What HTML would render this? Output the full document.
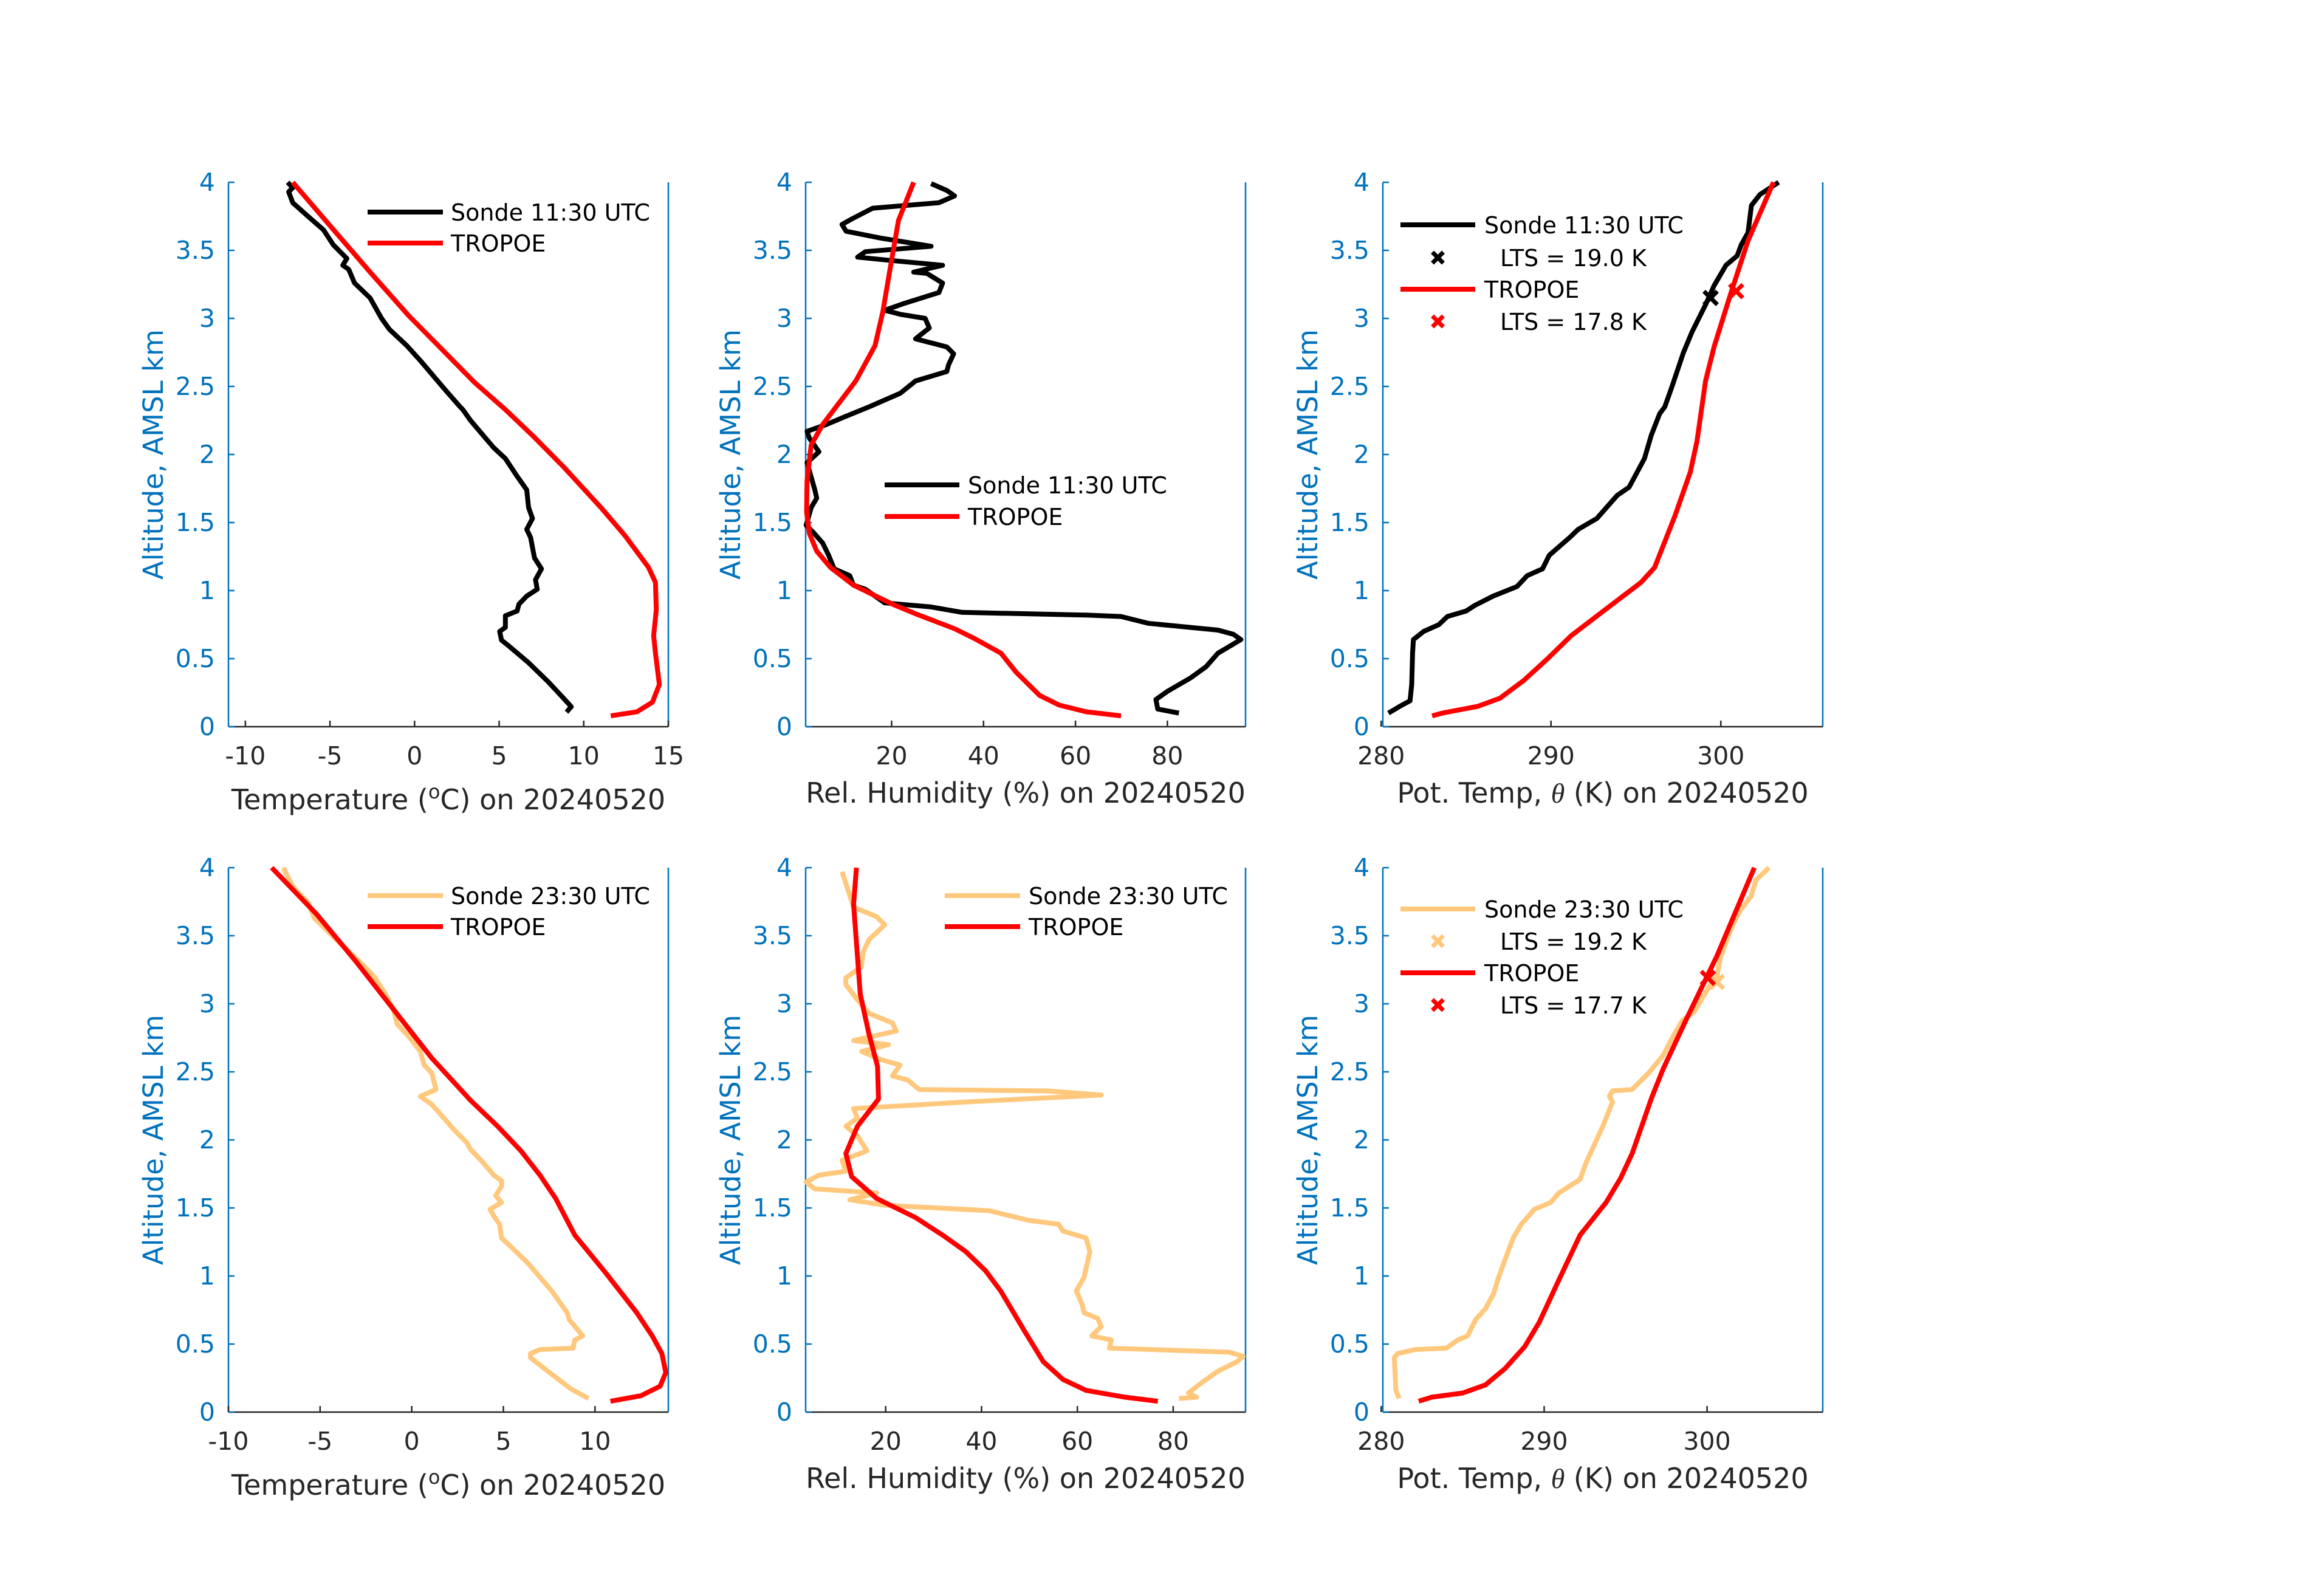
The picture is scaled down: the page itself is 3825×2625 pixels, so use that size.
<!DOCTYPE html>
<html><head><meta charset="utf-8">
<style>
html,body{margin:0;padding:0;background:#fff;}
svg{display:block;font-family:"DejaVu Sans","Liberation Sans",sans-serif;}
</style></head>
<body>
<svg id="fig" width="3825" height="2625" viewBox="0 0 3825 2625" xmlns="http://www.w3.org/2000/svg">
<rect width="3825" height="2625" fill="#fff"/>
</svg>
<script>
// ---- Data (altitude km) ----
// Top-left: temperature 11:30
const t1SondeT=[8.98,9.26,8.8,7.9,6.74,5.6,5.14,5.03,5.37,5.37,6.06,6.17,6.63,7.25,7.15,7.5,7.09,6.86,6.63,6.97,6.74,6.63,6.06,5.37,4.68,3.99,3.31,2.85,2.62,1.71,0.34,-0.46,-1.49,-1.95,-2.63,-3.55,-3.89,-4.24,-4.0,-4.8,-5.38,-6.3,-7.2,-7.44,-7.2,-7.5];
const t1SondeZ=[0.107,0.147,0.21,0.33,0.47,0.59,0.636,0.70,0.73,0.815,0.85,0.90,0.96,1.01,1.08,1.16,1.24,1.39,1.45,1.53,1.61,1.74,1.84,1.97,2.05,2.15,2.25,2.33,2.36,2.49,2.69,2.80,2.92,3.0,3.15,3.26,3.36,3.39,3.44,3.54,3.65,3.75,3.85,3.93,3.96,4.0];
const t1TropT=[11.6,13.15,14.06,14.47,14.24,14.13,14.29,14.24,13.83,12.46,11.09,8.8,6.97,5.37,3.54,1.48,-0.35,-2.63,-4.92,-7.2];
const t1TropZ=[0.08,0.11,0.18,0.31,0.54,0.67,0.86,1.06,1.17,1.40,1.60,1.91,2.14,2.33,2.53,2.79,3.02,3.34,3.67,4.0];
// Top-middle: RH 11:30
const r1SondeRH=[82.5,77.9,77.5,80,85.1,88.4,91,93.5,96,94.3,91,75.8,69.9,62.3,35.3,28.6,18.5,14.3,11.7,10.9,7.5,6.3,5.0,2.9,1.4,2.5,3.7,3.3,1.6,4.2,2.1,1.6,5.8,10,15.1,21.9,25.2,32,32.4,33.5,32,28.6,25.2,28.2,27.3,21.9,18.5,22.7,30.3,31.1,27.7,24.8,31.1,18.5,12.6,14.3,28.6,17.6,10.1,9.2,11.3,15.9,30.3,33.7,32,28.6];
const r1SondeZ=[0.10,0.13,0.20,0.26,0.36,0.44,0.54,0.59,0.64,0.68,0.71,0.76,0.81,0.82,0.84,0.88,0.91,1.01,1.04,1.11,1.16,1.26,1.35,1.43,1.48,1.61,1.68,1.74,1.94,2.02,2.12,2.17,2.22,2.28,2.35,2.45,2.54,2.61,2.66,2.74,2.79,2.82,2.85,2.93,3.0,3.03,3.06,3.11,3.19,3.26,3.33,3.34,3.39,3.43,3.45,3.49,3.53,3.59,3.64,3.69,3.73,3.81,3.85,3.90,3.94,3.99];
const r1TropRH=[69.9,62.3,56.4,52.2,47.1,43.8,37.9,33.7,25.2,20.2,11.7,6.7,3.7,2.1,1.5,1.6,2.5,5.0,12.2,16.4,18.1,19.7,21.5,24.8];
const r1TropZ=[0.08,0.11,0.16,0.23,0.40,0.54,0.65,0.72,0.83,0.90,1.04,1.17,1.29,1.42,1.58,1.81,2.07,2.22,2.54,2.80,3.05,3.37,3.72,4.0];
// Top-right: theta 11:30
const p1SondeTh=[280.43,281.1,281.7,281.8,281.85,281.9,282.5,283.4,283.9,285,285.5,286.6,288,288.6,289.5,289.9,291.1,291.6,292.7,293.9,294.6,295.5,295.9,296.4,296.7,297.1,297.8,298.3,298.7,299.1,299.6,300.3,300.96,301.2,301.6,301.8,302.3,303.4];
const p1SondeZ=[0.10,0.15,0.19,0.31,0.54,0.64,0.70,0.75,0.81,0.85,0.89,0.96,1.03,1.11,1.16,1.26,1.39,1.45,1.53,1.70,1.76,1.97,2.14,2.30,2.35,2.49,2.75,2.90,3.0,3.10,3.24,3.39,3.46,3.54,3.63,3.83,3.91,4.0];
const p1TropTh=[283.0,283.6,285.7,287.0,288.4,289.8,291.2,293.4,295.3,296.1,297.3,298.2,298.6,299.1,299.6,300.6,301.6,303.1];
const p1TropZ=[0.08,0.10,0.15,0.21,0.34,0.50,0.67,0.88,1.06,1.17,1.55,1.87,2.10,2.54,2.79,3.19,3.57,4.0];
const p1Marks=[[299.4,3.15],[300.9,3.20]];
const p1LTS=["19.0","17.8"];
// Bottom-left: temperature 23:30
const t2SondeT=[9.64,8.69,7.43,6.48,6.48,7.0,8.8,8.9,9.33,8.59,8.48,7.64,7.0,6.37,5.53,4.9,4.79,4.48,4.27,4.9,4.58,4.9,4.9,4.48,3.85,3.21,3.0,2.27,1.95,1.63,1.1,0.47,1.32,1.1,0.68,0.47,-0.16,-0.79,-1.0,-1.42,-2.05,-2.69,-3.95,-5.32,-5.64,-6.48,-6.9,-7.0];
const t2SondeZ=[0.10,0.17,0.30,0.40,0.43,0.46,0.47,0.53,0.56,0.68,0.73,0.89,0.99,1.09,1.20,1.28,1.38,1.44,1.49,1.54,1.59,1.66,1.70,1.74,1.84,1.93,1.98,2.08,2.13,2.18,2.26,2.32,2.37,2.49,2.55,2.65,2.76,2.85,2.96,3.07,3.2,3.29,3.45,3.63,3.74,3.86,3.97,4.0];
const t2TropT=[10.84,12.5,13.55,13.86,13.65,13.12,12.28,10.6,8.9,7.85,7.0,5.95,4.69,3.21,1.1,-1.0,-3.1,-5.2,-7.64];
const t2TropZ=[0.08,0.12,0.19,0.29,0.43,0.56,0.73,1.02,1.30,1.57,1.74,1.92,2.10,2.29,2.60,2.96,3.32,3.66,4.0];
// Bottom-middle: RH 23:30
const r2SondeRH=[81.2,84.9,83.2,86.1,89.3,93.3,94.6,91.7,66.7,67.1,63,65,64.2,61.4,61,59.8,61.4,62.6,61.8,57,56.1,49.7,41.6,19.8,12.5,18.1,5.2,3.4,6,11.7,10.9,16.1,14.1,11.7,14.1,13.3,37.5,65,53.7,27,24.6,21.4,23,19,15,20.6,13.3,22.2,21.4,16.5,14.1,11.7,11.7,14.9,15.3,16.5,19.8,18.1,13.3,12.1,10.9];
const r2SondeZ=[0.10,0.11,0.14,0.22,0.30,0.37,0.41,0.44,0.47,0.53,0.56,0.63,0.69,0.73,0.79,0.89,0.99,1.18,1.28,1.33,1.38,1.41,1.48,1.52,1.56,1.61,1.64,1.69,1.74,1.77,1.85,1.92,2.03,2.10,2.16,2.23,2.28,2.33,2.36,2.37,2.44,2.47,2.55,2.59,2.65,2.70,2.73,2.80,2.86,2.93,3.03,3.14,3.19,3.27,3.38,3.47,3.58,3.64,3.71,3.84,3.97];
const r2TropRH=[76.8,69.9,61.8,57,52.9,48.9,44,40.8,36.7,31.9,26.2,18.1,12.9,11.7,14.1,18.5,18.3,16.5,14.7,13.3,13.9];
const r2TropZ=[0.08,0.11,0.16,0.24,0.37,0.60,0.89,1.04,1.18,1.30,1.43,1.57,1.73,1.90,2.10,2.30,2.54,2.78,3.07,3.73,4.0];
// Bottom-right: theta 23:30
const p2SondeTh=[281.1,280.9,280.8,281.0,282.1,284.0,284.7,285.3,285.8,286.4,286.9,287.2,287.6,288.1,288.6,289.4,290.4,290.9,292.2,292.6,293.1,293.6,294.2,294.0,294.2,295.4,296.4,297.3,298.0,298.5,299.2,299.7,300.2,300.6,300.8,301.4,302,302.7,303.0,303.8];
const p2SondeZ=[0.10,0.16,0.40,0.43,0.46,0.47,0.53,0.56,0.68,0.76,0.87,0.99,1.12,1.28,1.38,1.49,1.54,1.61,1.71,1.84,1.97,2.10,2.28,2.32,2.36,2.37,2.49,2.62,2.78,2.88,2.94,3.04,3.14,3.20,3.33,3.53,3.68,3.79,3.91,4.0];
const p2TropTh=[282.3,283.1,285,286.4,287.6,288.8,289.7,290.9,292.2,293.8,294.7,295.4,296.6,297.3,298.7,300.6,302.9];
const p2TropZ=[0.08,0.11,0.14,0.20,0.32,0.48,0.66,0.97,1.30,1.54,1.72,1.90,2.31,2.52,2.88,3.35,4.0];
const p2Marks=[[300.6,3.16],[300.05,3.19]];
const p2LTS=["19.2","17.7"];
// Tick labels
const yTicks=[0,0.5,1,1.5,2,2.5,3,3.5,4];
const tTicks1=[-10,-5,0,5,10,15];
const tTicks2=[-10,-5,0,5,10];
const rhTicks=[20,40,60,80];
const thTicks=[280,290,300];

const NS="http://www.w3.org/2000/svg";
const svg=document.getElementById('fig');
const BLUE="#0072BD", GRAY="#262626", ORANGE="#FFC87D", RED="#FF0000";
function el(tag,attrs,parent){const e=document.createElementNS(NS,tag);for(const k in attrs)e.setAttribute(k,attrs[k]);(parent||svg).appendChild(e);return e;}

function panel(cfg){
  const g=el('g',{});
  
  
  const {x0,x1,y0,y1,xmin,xmax}=cfg;
  const sx=v=>x0+(v-xmin)/(xmax-xmin)*(x1-x0);
  const sy=v=>y1-(v/4)*(y1-y0);
  // axes
  const la=el('line',{x1:x0,y1:y0,x2:x0,y2:y1,stroke:BLUE,'stroke-width':2.5},g);
  
  
  const ra=el('line',{x1:x1,y1:y0,x2:x1,y2:y1,stroke:BLUE,'stroke-width':2.5},g);
  
  
  const ba=el('line',{x1:x0,y1:y1,x2:x1,y2:y1,stroke:GRAY,'stroke-width':2.5},g);
  
  
  yTicks.forEach(v=>{
    const y=sy(v);
    el('line',{x1:x0,y1:y,x2:x0+10,y2:y,stroke:BLUE,'stroke-width':2.5},g);
    const t=el('text',{x:x0-22,y:y+14,'text-anchor':'end','font-size':41,fill:BLUE},g);
    t.textContent=String(v);
    
    
  });
  cfg.xticks.forEach(v=>{
    const x=sx(v);
    el('line',{x1:x,y1:y1,x2:x,y2:y1-10,stroke:GRAY,'stroke-width':2.5},g);
    const t=el('text',{x:x,y:y1+62,'text-anchor':'middle','font-size':41,fill:GRAY},g);
    t.textContent=String(v);
    
    
  });
  // y label
  const yl=el('text',{x:0,y:0,'text-anchor':'middle','font-size':45,fill:BLUE,transform:`translate(${x0-108},${(y0+y1)/2}) rotate(-90)`},g);
  yl.textContent='Altitude, AMSL km';
  
  
  // x label
  const xl=el('text',{x:(x0+x1)/2,y:y1+cfg.xlabDy,'text-anchor':'middle','font-size':46,fill:GRAY},g);
  xl.innerHTML=cfg.xlabel;
  
  
  // series
  cfg.series.forEach(s=>{
    const d=s.x.map((v,i)=>(i?'L':'M')+sx(v).toFixed(1)+','+sy(s.z[i]).toFixed(1)).join('');
    const p=el('path',{d:d,fill:'none',stroke:s.color,'stroke-width':8,'stroke-linejoin':'round','stroke-linecap':'butt'},g);
    
    
  });
  (cfg.marks||[]).forEach((m,i)=>{
    const cx=sx(m[0]),cy=sy(m[1]),r=11;
    const mk=el('path',{d:`M${cx-r},${cy-r}L${cx+r},${cy+r}M${cx-r},${cy+r}L${cx+r},${cy-r}`,stroke:cfg.markColors[i],'stroke-width':7,fill:'none'},g);
    
    
  });
  // legend
  const L=cfg.legend;
  const lg=el('g',{},g);
  
  
  L.rows.forEach(r=>{
    if(r.type==='line'){
      el('line',{x1:L.lx0,y1:r.y,x2:L.lx1,y2:r.y,stroke:r.color,'stroke-width':8},lg);
      const t=el('text',{x:L.tx,y:r.y+14,'font-size':38,fill:'#000'},lg);
      t.textContent=r.text;
      
      
    } else {
      const cx=(L.lx0+L.lx1)/2,cy=r.y,rr=9;
      el('path',{d:`M${cx-rr},${cy-rr}L${cx+rr},${cy+rr}M${cx-rr},${cy+rr}L${cx+rr},${cy-rr}`,stroke:r.color,'stroke-width':7,fill:'none'},lg);
      const t=el('text',{x:L.tx+26,y:r.y+14,'font-size':38,fill:'#000'},lg);
      t.textContent=r.text;
      
      
    }
  });
}

const TL='Temperature (<tspan font-size="32" dy="-18">o</tspan><tspan dy="18">C) on 20240520</tspan>';
const RL='Rel. Humidity (%) on 20240520';
const PL='Pot. Temp, <tspan font-family="Liberation Serif,serif" font-style="italic">θ</tspan> (K) on 20240520';
const TOP=[300,1196], BOT=[1428,2324];
const COL=[[376,1100],[1326,2050],[2276,3000]];

panel({name:'temp-panel-1130',x0:COL[0][0],x1:COL[0][1],y0:TOP[0],y1:TOP[1],xmin:-11,xmax:15,xticks:tTicks1,xlabel:TL,xlabDy:136,
  series:[{name:'sonde-temp-line',x:t1SondeT,z:t1SondeZ,color:'#000'},{name:'tropoe-temp-line',x:t1TropT,z:t1TropZ,color:RED}],
  legend:{lx0:605,lx1:729,tx:742,rows:[{type:'line',y:349,color:'#000',text:'Sonde 11:30 UTC'},{type:'line',y:400,color:RED,text:'TROPOE'}]}});
panel({name:'rh-panel-1130',x0:COL[1][0],x1:COL[1][1],y0:TOP[0],y1:TOP[1],xmin:1.3,xmax:97,xticks:rhTicks,xlabel:RL,xlabDy:125,
  series:[{name:'sonde-rh-line',x:r1SondeRH,z:r1SondeZ,color:'#000'},{name:'tropoe-rh-line',x:r1TropRH,z:r1TropZ,color:RED}],
  legend:{lx0:1456,lx1:1579,tx:1593,rows:[{type:'line',y:798,color:'#000',text:'Sonde 11:30 UTC'},{type:'line',y:850,color:RED,text:'TROPOE'}]}});
panel({name:'theta-panel-1130',x0:COL[2][0],x1:COL[2][1],y0:TOP[0],y1:TOP[1],xmin:280.1,xmax:306,xticks:thTicks,xlabel:PL,xlabDy:125,
  series:[{name:'sonde-theta-line',x:p1SondeTh,z:p1SondeZ,color:'#000'},{name:'tropoe-theta-line',x:p1TropTh,z:p1TropZ,color:RED}],
  marks:p1Marks,markColors:['#000',RED],
  legend:{lx0:2305,lx1:2428,tx:2443,rows:[{type:'line',y:370,color:'#000',text:'Sonde 11:30 UTC'},{type:'x',y:424,color:'#000',text:'LTS = '+p1LTS[0]+' K'},{type:'line',y:476,color:RED,text:'TROPOE'},{type:'x',y:529,color:RED,text:'LTS = '+p1LTS[1]+' K'}]}});
panel({name:'temp-panel-2330',x0:COL[0][0],x1:COL[0][1],y0:BOT[0],y1:BOT[1],xmin:-10,xmax:14,xticks:tTicks2,xlabel:TL,xlabDy:136,
  series:[{name:'sonde-temp-line',x:t2SondeT,z:t2SondeZ,color:ORANGE},{name:'tropoe-temp-line',x:t2TropT,z:t2TropZ,color:RED}],
  legend:{lx0:605,lx1:729,tx:742,rows:[{type:'line',y:1474,color:ORANGE,text:'Sonde 23:30 UTC'},{type:'line',y:1525,color:RED,text:'TROPOE'}]}});
panel({name:'rh-panel-2330',x0:COL[1][0],x1:COL[1][1],y0:BOT[0],y1:BOT[1],xmin:3.3,xmax:95.1,xticks:rhTicks,xlabel:RL,xlabDy:125,
  series:[{name:'sonde-rh-line',x:r2SondeRH,z:r2SondeZ,color:ORANGE},{name:'tropoe-rh-line',x:r2TropRH,z:r2TropZ,color:RED}],
  legend:{lx0:1555,lx1:1679,tx:1693,rows:[{type:'line',y:1474,color:ORANGE,text:'Sonde 23:30 UTC'},{type:'line',y:1525,color:RED,text:'TROPOE'}]}});
panel({name:'theta-panel-2330',x0:COL[2][0],x1:COL[2][1],y0:BOT[0],y1:BOT[1],xmin:280.1,xmax:307.1,xticks:thTicks,xlabel:PL,xlabDy:125,
  series:[{name:'sonde-theta-line',x:p2SondeTh,z:p2SondeZ,color:ORANGE},{name:'tropoe-theta-line',x:p2TropTh,z:p2TropZ,color:RED}],
  marks:p2Marks,markColors:[ORANGE,RED],
  legend:{lx0:2305,lx1:2428,tx:2443,rows:[{type:'line',y:1496,color:ORANGE,text:'Sonde 23:30 UTC'},{type:'x',y:1549,color:ORANGE,text:'LTS = '+p2LTS[0]+' K'},{type:'line',y:1601,color:RED,text:'TROPOE'},{type:'x',y:1654,color:RED,text:'LTS = '+p2LTS[1]+' K'}]}});
</script>
</body></html>
